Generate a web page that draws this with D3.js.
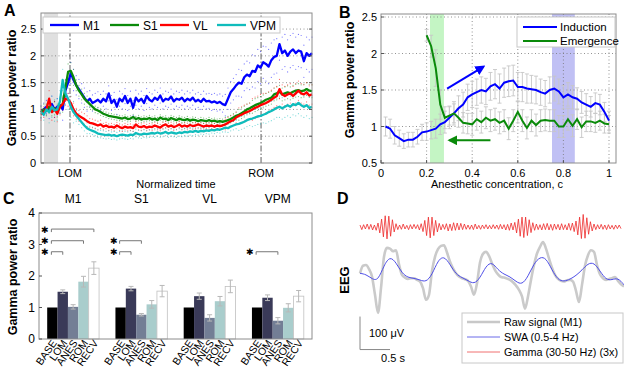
<!DOCTYPE html>
<html><head><meta charset="utf-8">
<script src="https://cdn.jsdelivr.net/npm/d3@7"></script>
<style>
body{margin:0;background:#fff;}
svg{font-family:"Liberation Sans",Arial,sans-serif;}
</style></head><body>
<svg id="c" width="624" height="371"></svg>
<script>
// ================= DATA =================
// Panel A: normalized time (0..1, step 0.01)
const timeA = d3.range(0, 101).map(i => i / 100);
const lomTime = 0.107, romTime = 0.812, baseBand = [0.011, 0.063];
const seriesA = ["M1", "S1", "VL", "VPM"];
const colorsA = ["#0000ff", "#0a8a0a", "#ff0000", "#10bcbc"];
const m1Mean = [0.95,1.0,1.05,0.98,1.1,1.0,1.05,1.08,1.0,1.35,1.5,1.68,1.55,1.45,1.38,1.3,1.22,1.15,1.2,1.12,1.15,
 1.18,1.13,1.2,1.15,1.3,1.12,1.18,1.05,1.2,1.15,1.25,1.12,1.2,1.03,1.22,1.15,1.2,1.12,1.25,1.18,
 1.15,1.22,1.18,1.26,1.15,1.2,1.18,1.24,1.15,1.2,1.18,1.22,1.15,1.2,1.17,1.22,1.15,1.18,1.14,1.2,
 1.15,1.16,1.13,1.15,1.12,1.14,1.1,1.08,1.2,1.32,1.38,1.45,1.5,1.48,1.6,1.65,1.62,1.72,1.7,1.82,
 1.78,1.88,1.85,1.8,1.92,1.98,2.0,2.22,2.05,2.1,2.0,2.08,2.12,2.05,2.1,2.08,1.9,2.05,2.0,2.05];
const s1Mean = [0.95,1.0,0.98,1.05,1.0,1.02,0.98,1.05,1.1,1.4,1.7,1.72,1.6,1.45,1.35,1.28,1.2,1.15,1.1,1.05,1.0,
 0.98,0.95,0.92,0.9,0.88,0.87,0.86,0.85,0.84,0.83,0.85,0.82,0.83,0.86,0.82,0.84,0.81,0.83,0.82,0.84,
 0.81,0.83,0.8,0.85,0.82,0.83,0.8,0.84,0.82,0.8,0.83,0.81,0.8,0.82,0.79,0.81,0.8,0.78,0.8,0.79,
 0.78,0.8,0.78,0.79,0.77,0.78,0.77,0.78,0.8,0.82,0.85,0.88,0.9,0.93,0.96,1.0,1.02,1.05,1.08,1.1,
 1.12,1.15,1.18,1.2,1.22,1.28,1.3,1.33,1.28,1.3,1.32,1.3,1.33,1.35,1.36,1.34,1.35,1.38,1.35,1.34];
const vlMean = [0.9,0.95,1.0,1.2,0.95,1.0,0.92,1.05,1.1,1.2,1.18,1.12,1.0,0.92,0.88,0.85,0.82,0.78,0.75,0.74,0.72,
 0.7,0.72,0.68,0.7,0.67,0.68,0.66,0.7,0.67,0.65,0.68,0.66,0.67,0.65,0.72,0.68,0.67,0.69,0.66,0.68,
 0.67,0.7,0.68,0.66,0.7,0.72,0.68,0.7,0.67,0.69,0.72,0.68,0.7,0.68,0.71,0.69,0.7,0.72,0.7,0.68,
 0.7,0.69,0.7,0.68,0.7,0.69,0.7,0.72,0.75,0.78,0.8,0.85,0.88,0.9,0.93,0.95,0.97,1.0,1.03,1.05,
 1.08,1.1,1.12,1.15,1.18,1.22,1.25,1.38,1.28,1.25,1.28,1.3,1.25,1.3,1.35,1.3,1.28,1.32,1.26,1.28];
const vpmMean = [0.95,0.9,1.0,0.95,1.05,0.98,1.0,1.15,1.55,1.3,1.2,1.05,0.95,0.88,0.82,0.76,0.7,0.65,0.62,0.6,0.58,
 0.55,0.54,0.53,0.52,0.53,0.51,0.52,0.5,0.52,0.53,0.52,0.51,0.53,0.52,0.56,0.54,0.53,0.55,0.54,0.55,
 0.56,0.55,0.57,0.55,0.56,0.58,0.55,0.57,0.56,0.55,0.57,0.56,0.58,0.57,0.59,0.58,0.6,0.58,0.6,0.59,
 0.61,0.6,0.62,0.61,0.63,0.62,0.64,0.66,0.65,0.68,0.7,0.72,0.73,0.75,0.77,0.8,0.82,0.83,0.85,0.87,
 0.88,0.9,0.92,0.95,0.97,1.0,1.03,1.05,1.02,1.05,1.08,1.05,1.1,1.08,1.12,1.08,1.05,1.08,1.03,1.05];
// scatter spread (every 0.05 of normalized time)
const m1Spread  = [0.12,0.15,0.2,0.18,0.15,0.14,0.14,0.14,0.14,0.14,0.14,0.14,0.14,0.15,0.2,0.25,0.3,0.32,0.3,0.3,0.3];
const s1Spread  = [0.1,0.12,0.15,0.1,0.06,0.05,0.05,0.05,0.05,0.05,0.05,0.05,0.05,0.05,0.07,0.1,0.12,0.12,0.12,0.12,0.12];
const vlSpread  = [0.1,0.15,0.12,0.1,0.08,0.06,0.06,0.06,0.06,0.06,0.06,0.06,0.06,0.06,0.1,0.15,0.2,0.18,0.18,0.18,0.18];
const vpmSpread = [0.1,0.2,0.2,0.1,0.07,0.07,0.07,0.07,0.07,0.07,0.07,0.07,0.06,0.06,0.08,0.12,0.15,0.18,0.2,0.2,0.2];
const yTicksA = [0, 0.5, 1, 1.5, 2, 2.5];

// Panel B
const concInd = d3.range(1, 51).map(i => i * 0.02);
const induction = [1.0,0.97,0.88,0.84,0.80,0.82,0.82,0.86,0.92,0.93,0.95,0.97,1.03,1.06,1.12,1.18,1.25,1.3,1.4,1.44,
 1.47,1.5,1.48,1.55,1.58,1.52,1.6,1.62,1.63,1.54,1.54,1.52,1.51,1.5,1.47,1.45,1.5,1.52,1.48,1.4,
 1.44,1.4,1.38,1.33,1.3,1.27,1.32,1.3,1.2,1.08];
const inductionErr = [0.13,0.13,0.12,0.11,0.1,0.1,0.1,0.1,0.11,0.12,0.12,0.13,0.14,0.15,0.15,0.16,0.17,0.17,0.18,0.18,
 0.18,0.18,0.18,0.19,0.2,0.2,0.2,0.21,0.21,0.2,0.2,0.2,0.19,0.19,0.18,0.18,0.18,0.17,0.17,0.16,
 0.16,0.16,0.15,0.15,0.15,0.14,0.14,0.14,0.13,0.13];
const concEm = d3.range(10, 51).map(i => i * 0.02);
const emergence = [2.25,2.1,1.8,1.3,1.12,1.15,1.18,1.12,1.05,1.04,1.03,1.1,1.06,1.12,1.08,1.1,1.05,1.08,0.97,1.08,
 1.2,1.08,0.98,1.08,1.02,1.08,1.09,1.08,1.08,1.0,1.0,1.1,1.01,1.1,0.99,1.07,1.07,1.05,1.08,1.04,1.03];
const emergenceErr = [0.08,0.15,0.25,0.2,0.15,0.13,0.13,0.13,0.14,0.14,0.15,0.15,0.15,0.15,0.15,0.15,0.15,0.15,0.15,0.15,
 0.15,0.15,0.15,0.15,0.15,0.15,0.15,0.15,0.15,0.15,0.15,0.15,0.15,0.14,0.14,0.14,0.14,0.13,0.13,0.13,0.12];
const bandEm = [0.215, 0.276], bandInd = [0.75, 0.85];
const xTicksB = [0, 0.2, 0.4, 0.6, 0.8, 1], yTicksB = [0.5, 1, 1.5, 2, 2.5];

// Panel C
const regions = ["M1", "S1", "VL", "VPM"];
const states = ["BASE", "LOM", "ANES", "ROM", "RECV"];
const stateColors = ["#000000", "#3a3a58", "#737e95", "#a9cdcc", "#ffffff"];
const valsC = { M1: [1, 1.5, 1.02, 1.82, 2.25], S1: [1, 1.6, 0.77, 1.1, 1.52], VL: [1, 1.36, 0.67, 1.2, 1.67], VPM: [1, 1.31, 0.58, 0.99, 1.36] };
const errC  = { M1: [0, 0.06, 0.07, 0.17, 0.2], S1: [0, 0.07, 0.04, 0.12, 0.18], VL: [0, 0.1, 0.1, 0.15, 0.2], VPM: [0, 0.09, 0.1, 0.13, 0.18] };
const sigC = [["M1","LOM",2.77],["M1","ROM",3.12],["M1","RECV",3.49],["S1","LOM",2.77],["S1","ANES",3.12],["VPM","ANES",2.77]];
const yTicksC = [0, 1, 2, 3, 4];

// Panel D (time in s; values in microvolts)
const swa = [-4,-7,-21,-27,21,48,29,-4,-17,-19,-24,-31,-9,36,49,23,-7,-17,-26,-37,-19,19,31,6,-7,-14,-29,-39,-14,26,46,43,6,-24,-29,-22,-11,6,26,29,3,-24,-24,-17,-39];
const raw = [-4,19,21,9,-14,-69,-124,-49,46,73,71,63,66,23,-9,-17,-21,-19,-19,-24,-29,-49,-84,-69,3,46,69,79,81,59,31,11,-4,-14,-19,-22,-27,-44,-69,-34,29,55,61,49,26,6,-7,-15,-17,-20,-24,-31,-41,-54,-74,-111,-74,-24,21,56,76,91,71,41,13,-9,-21,-27,-29,-25,-24,-29,-57,-91,-39,19,51,66,61,21,-7,-19,-24,-21,-19,-15,-27,-37,-44];
const gamma = [6,-8,7,-6,9,-7,8,-9,6,-10,12,
 -18,24,-30,34,-36,33,-28,22,-15,10,
 -8,6,-7,9,-6,5,-8,7,-6,8,-5,7,-9,10,-14,
 20,-26,30,-33,30,-26,20,-15,11,-9,
 8,-7,10,-12,9,-11,13,-10,12,-9,11,-8,9,-7,6,
 -7,6,-8,9,-6,5,-7,6,-5,7,-6,5,-6,7,-5,6,-7,8,-6,7,-9,8,-10,12,-9,14,
 -18,24,-28,30,-32,30,-26,22,-17,13,-10,9,-8,
 7,-9,10,-8,11,-9,8,-10,9,-7,8,-9,10,-8,7,-9,11,-10,12,-14,
 18,-24,30,-35,38,-34,28,-22,16,-12,9,
 -8,7,-6,8,-7,6,-8,7,-6,5,-7,6,-5,6,-5];
const swaDt = 0.1, rawDt = 0.05, gammaDt = 0.03;
const legendD = ["Raw signal (M1)", "SWA (0.5-4 Hz)", "Gamma (30-50 Hz) (3x)"];

// ================= DRAW =================
const svg = d3.select("#c");
const frameCol = "#8c8c8c";
function txt(g, x, y, s, o = {}) {
  return g.append("text").attr("x", x).attr("y", y).text(s)
    .attr("font-size", o.size || 11).attr("font-weight", o.bold ? "bold" : null)
    .attr("text-anchor", o.anchor || "start").attr("fill", o.fill || "#000");
}
function rotLabel(x, y, s, size) {
  svg.append("text").attr("transform", `translate(${x},${y}) rotate(-90)`).text(s)
    .attr("font-size", size).attr("font-weight", "bold").attr("text-anchor", "middle");
}

// ---------- Panel A ----------
{
  const x = d3.scaleLinear([0, 1], [41, 312]);
  const y = d3.scaleLinear([0, 2.8], [163, 13]);
  const g = svg.append("g");
  g.append("rect").attr("x", x(baseBand[0])).attr("width", x(baseBand[1]) - x(baseBand[0]))
    .attr("y", y(2.8)).attr("height", y(0) - y(2.8)).attr("fill", "#e0e0e0");
  yTicksA.filter(d => d > 0).forEach(d => g.append("line").attr("x1", x(0)).attr("x2", x(1)).attr("y1", y(d)).attr("y2", y(d))
    .attr("stroke", "#777").attr("stroke-width", 0.8).attr("stroke-dasharray", "1,2.5"));
  [lomTime, romTime].forEach(t => g.append("line").attr("x1", x(t)).attr("x2", x(t)).attr("y1", y(0)).attr("y2", y(2.8))
    .attr("stroke", "#333").attr("stroke-width", 0.8).attr("stroke-dasharray", "6,2,1.5,2"));
  const means = [m1Mean, s1Mean, vlMean, vpmMean], spreads = [m1Spread, s1Spread, vlSpread, vpmSpread];
  means.forEach((m, k) => {
    const sp = spreads[k];
    [1, -1].forEach(sg => {
      g.append("g").selectAll("circle").data(m).join("circle")
        .attr("cx", (d, i) => x(timeA[i])).attr("cy", (d, i) => y(d + sg * sp[Math.round(i / 5)]))
        .attr("r", 0.6).attr("fill", colorsA[k]).attr("opacity", 0.55);
    });
  });
  means.forEach((m, k) => {
    g.append("path").datum(m).attr("fill", "none").attr("stroke", colorsA[k]).attr("stroke-width", 2.3)
      .attr("stroke-linejoin", "round")
      .attr("d", d3.line().x((d, i) => x(timeA[i])).y(d => y(d)));
  });
  g.append("rect").attr("x", 41).attr("y", 13).attr("width", 271).attr("height", 150)
    .attr("fill", "none").attr("stroke", frameCol);
  yTicksA.forEach(d => {
    g.append("line").attr("x1", 41).attr("x2", 44).attr("y1", y(d)).attr("y2", y(d)).attr("stroke", "#555");
    g.append("line").attr("x1", 309).attr("x2", 312).attr("y1", y(d)).attr("y2", y(d)).attr("stroke", "#555");
    txt(g, 36, y(d) + 4, d3.format("~g")(d), { anchor: "end" });
  });
  txt(g, x(lomTime), 177, "LOM", { anchor: "middle" });
  txt(g, x(romTime), 177, "ROM", { anchor: "middle" });
  txt(g, 176, 188, "Normalized time", { anchor: "middle" });
  // legend
  g.append("rect").attr("x", 43).attr("y", 17).attr("width", 237).attr("height", 16).attr("fill", "#fff").attr("stroke", "#c8c8c8");
  const lx = [50, 110, 160, 217];
  seriesA.forEach((s, k) => {
    g.append("line").attr("x1", lx[k]).attr("x2", lx[k] + 29).attr("y1", 25).attr("y2", 25).attr("stroke", colorsA[k]).attr("stroke-width", 2.3);
    txt(g, lx[k] + 33, 29.5, s, { size: 12 });
  });
  rotLabel(16, 88, "Gamma power ratio", 12.5);
  txt(svg, 4, 16, "A", { size: 16, bold: true });
}

// ---------- Panel B ----------
{
  const x = d3.scaleLinear([0, 1], [381, 609]);
  const y = d3.scaleLinear([0.5, 2.5], [163, 17]);
  const g = svg.append("g");
  g.append("rect").attr("x", x(bandEm[0])).attr("width", x(bandEm[1]) - x(bandEm[0])).attr("y", 14).attr("height", 149).attr("fill", "#c4f5c4");
  g.append("rect").attr("x", x(bandInd[0])).attr("width", x(bandInd[1]) - x(bandInd[0])).attr("y", 14).attr("height", 149).attr("fill", "#c0c0f4");
  xTicksB.filter(d => d > 0).forEach(d => g.append("line").attr("x1", x(d)).attr("x2", x(d)).attr("y1", 14).attr("y2", 163)
    .attr("stroke", "#777").attr("stroke-width", 0.8).attr("stroke-dasharray", "1,2.5"));
  yTicksB.filter(d => d > 0.5).forEach(d => g.append("line").attr("x1", 381).attr("x2", 616).attr("y1", y(d)).attr("y2", y(d))
    .attr("stroke", "#777").attr("stroke-width", 0.8).attr("stroke-dasharray", "1,2.5"));
  function errBars(cs, vs, es) {
    cs.forEach((c, i) => {
      const x0 = x(c), y1 = y(vs[i] - es[i]), y2 = y(vs[i] + es[i]);
      g.append("line").attr("x1", x0).attr("x2", x0).attr("y1", y1).attr("y2", y2).attr("stroke", "#c6c6c6").attr("stroke-width", 0.9);
      [y1, y2].forEach(yy => g.append("line").attr("x1", x0 - 2).attr("x2", x0 + 2).attr("y1", yy).attr("y2", yy).attr("stroke", "#c6c6c6").attr("stroke-width", 0.9));
    });
  }
  errBars(concInd, induction, inductionErr);
  errBars(concEm, emergence, emergenceErr);
  g.append("path").datum(induction).attr("fill", "none").attr("stroke", "#0000ff").attr("stroke-width", 2)
    .attr("d", d3.line().x((d, i) => x(concInd[i])).y(d => y(d)));
  g.append("path").datum(emergence).attr("fill", "none").attr("stroke", "#0a8a0a").attr("stroke-width", 2)
    .attr("d", d3.line().x((d, i) => x(concEm[i])).y(d => y(d)));
  // arrows
  const defs = svg.append("defs");
  [["ab", "#0000ff"], ["ag", "#0a8a0a"]].forEach(([id, c]) => {
    defs.append("marker").attr("id", id).attr("viewBox", "0 0 10 10").attr("refX", 8).attr("refY", 5)
      .attr("markerWidth", 5).attr("markerHeight", 5).attr("orient", "auto")
      .append("path").attr("d", "M0,0 L10,5 L0,10 z").attr("fill", c);
  });
  g.append("line").attr("x1", x(0.29)).attr("y1", y(1.52)).attr("x2", x(0.45)).attr("y2", y(1.82))
    .attr("stroke", "#0000ff").attr("stroke-width", 2).attr("marker-end", "url(#ab)");
  g.append("line").attr("x1", x(0.48)).attr("y1", y(0.81)).attr("x2", x(0.3)).attr("y2", y(0.81))
    .attr("stroke", "#0a8a0a").attr("stroke-width", 2).attr("marker-end", "url(#ag)");
  g.append("rect").attr("x", 381).attr("y", 14).attr("width", 235).attr("height", 149).attr("fill", "none").attr("stroke", frameCol);
  yTicksB.forEach(d => {
    g.append("line").attr("x1", 381).attr("x2", 384).attr("y1", y(d)).attr("y2", y(d)).attr("stroke", "#555");
    txt(g, 377, y(d) + 4, d3.format("~g")(d), { anchor: "end" });
  });
  xTicksB.forEach(d => {
    g.append("line").attr("x1", x(d)).attr("x2", x(d)).attr("y1", 163).attr("y2", 160).attr("stroke", "#555");
    txt(g, x(d), 177, d3.format("~g")(d), { anchor: "middle" });
  });
  txt(g, 497, 188, "Anesthetic concentration, c", { anchor: "middle" });
  g.append("rect").attr("x", 517).attr("y", 17).attr("width", 98).attr("height", 30).attr("fill", "#fff").attr("stroke", "#c8c8c8");
  g.append("line").attr("x1", 523).attr("x2", 557).attr("y1", 27).attr("y2", 27).attr("stroke", "#0000ff").attr("stroke-width", 2);
  g.append("line").attr("x1", 523).attr("x2", 557).attr("y1", 41).attr("y2", 41).attr("stroke", "#0a8a0a").attr("stroke-width", 2);
  txt(g, 560, 31, "Induction", { size: 11.5 });
  txt(g, 560, 45, "Emergence", { size: 11.5 });
  rotLabel(354, 80, "Gamma power ratio", 12.5);
  txt(svg, 339, 18, "B", { size: 16, bold: true });
}

// ---------- Panel C ----------
{
  const xg = d3.scaleBand(regions, [39, 312]).paddingInner(0.24).paddingOuter(0.12);
  const xs = d3.scaleBand(states, [0, xg.bandwidth()]);
  const y = d3.scaleLinear([0, 4], [339, 213]);
  const g = svg.append("g");
  regions.forEach(r => {
    const gx = xg(r);
    states.forEach((s, k) => {
      const v = valsC[r][k];
      g.append("rect").attr("x", gx + xs(s)).attr("width", xs.bandwidth()).attr("y", y(v)).attr("height", y(0) - y(v))
        .attr("fill", stateColors[k]).attr("stroke", k === 4 ? "#c0c0c0" : "none").attr("stroke-width", 0.8);
      const e = errC[r][k];
      if (e > 0) {
        const cx = gx + xs(s) + xs.bandwidth() / 2;
        g.append("line").attr("x1", cx).attr("x2", cx).attr("y1", y(v - e)).attr("y2", y(v + e)).attr("stroke", "#b8b8b8");
        [v - e, v + e].forEach(w => g.append("line").attr("x1", cx - 2.5).attr("x2", cx + 2.5).attr("y1", y(w)).attr("y2", y(w)).attr("stroke", "#b8b8b8"));
      }
      g.append("text").attr("transform", `translate(${gx + xs(s) + xs.bandwidth() / 2 + 5},${343}) rotate(-55)`)
        .attr("text-anchor", "end").attr("font-size", 10.5).text(s);
    });
    txt(g, gx + xg.bandwidth() / 2, 203, r, { anchor: "middle", size: 12 });
  });
  sigC.forEach(([r, s, lv]) => {
    const x1 = xg(r) + xs("BASE") + xs.bandwidth() / 2 - 1;
    const x2 = xg(r) + xs(s) + xs.bandwidth() / 2;
    const yy = y(lv);
    g.append("path").attr("d", `M${x1},${yy + 3}V${yy}H${x2}V${yy + 3}`).attr("fill", "none").attr("stroke", "#777").attr("stroke-width", 1);
    txt(g, x1 - 6, yy + 3.5, "✱", { anchor: "middle", size: 9 });
  });
  g.append("rect").attr("x", 39).attr("y", 213).attr("width", 273).attr("height", 126).attr("fill", "none").attr("stroke", frameCol);
  yTicksC.forEach(d => {
    g.append("line").attr("x1", 39).attr("x2", 42).attr("y1", y(d)).attr("y2", y(d)).attr("stroke", "#555");
    txt(g, 35, y(d) + 4, d, { anchor: "end", size: 12 });
  });
  rotLabel(17, 277, "Gamma power ratio", 12.5);
  txt(svg, 3, 204, "C", { size: 16, bold: true });
}

// ---------- Panel D ----------
{
  const x = d3.scaleLinear([0, 0.5], [360, 390]);
  const y = d3.scaleLinear([0, 100], [272, 239]);
  const yg = d3.scaleLinear([0, 100], [227, 194]);
  const g = svg.append("g");
  g.append("path").datum(gamma).attr("fill", "none").attr("stroke", "#ee2a2a").attr("stroke-width", 0.8)
    .attr("d", d3.line().x((d, i) => x(i * gammaDt)).y(d => yg(d)));
  g.append("path").datum(raw).attr("fill", "none").attr("stroke", "#cacaca").attr("stroke-width", 2.6).attr("stroke-linejoin", "round")
    .attr("d", d3.line().curve(d3.curveMonotoneX).x((d, i) => x(i * rawDt)).y(d => y(d)));
  g.append("path").datum(swa).attr("fill", "none").attr("stroke", "#4f4fe8").attr("stroke-width", 1)
    .attr("d", d3.line().curve(d3.curveBasis).x((d, i) => x(i * swaDt)).y(d => y(d)));
  // scale bar
  g.append("path").attr("d", `M${x(0)},${y(-135)}V${y(-235)}H${x(0.5)}`).attr("fill", "none").attr("stroke", "#888").attr("stroke-width", 1);
  txt(g, 369, 337, "100 μV", { size: 11 });
  txt(g, 393, 362, "0.5 s", { size: 11, anchor: "middle" });
  rotLabel(349, 280, "EEG", 13);
  // legend
  g.append("rect").attr("x", 462).attr("y", 313).attr("width", 161).attr("height", 50).attr("fill", "#fff").attr("stroke", "#c8c8c8");
  const lc = ["#c8c8c8", "#6a6ae8", "#f07070"], lw = [2.5, 1, 1];
  legendD.forEach((s, k) => {
    const yy = 322 + k * 15;
    g.append("line").attr("x1", 467).attr("x2", 500).attr("y1", yy).attr("y2", yy).attr("stroke", lc[k]).attr("stroke-width", lw[k]);
    txt(g, 504, yy + 4, s, { size: 10.8 });
  });
  txt(svg, 337, 204, "D", { size: 16, bold: true });
}
</script></body></html>
